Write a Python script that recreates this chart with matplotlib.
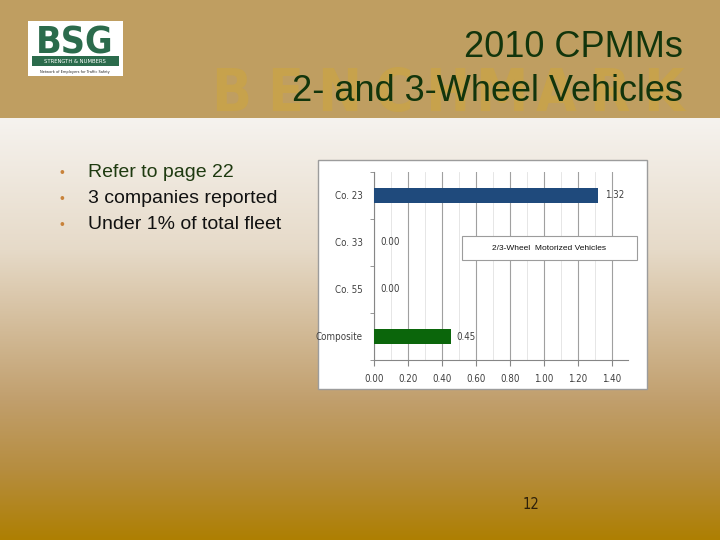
import numpy as np
import matplotlib
matplotlib.use("Agg")
import matplotlib.pyplot as plt
from matplotlib.patches import Rectangle
from matplotlib.colors import to_rgb

# ---- data ----
categories = ["Co. 23", "Co. 33", "Co. 55", "Composite"]
values = [1.32, 0.00, 0.00, 0.45]
bar_colors = ["#1F4A7C", "#1F4A7C", "#1F4A7C", "#0B660B"]
x_ticks = [0.00, 0.20, 0.40, 0.60, 0.80, 1.00, 1.20, 1.40]
series_name = "2/3-Wheel  Motorized Vehicles"
title1 = "2010 CPMMs"
title2 = "2- and 3-Wheel Vehicles"
bullets = ["Refer to page 22", "3 companies reported", "Under 1% of total fleet"]
watermark = "BENCHMARK"
page_no = "12"

W, H = 720, 540
fig = plt.figure(figsize=(7.2, 5.4), dpi=100)

COND = dict(family=["DejaVu Sans"], fontstretch="condensed")
ARIAL = ["Liberation Sans", "DejaVu Sans"]

# ---- background (pixel coordinates) ----
bg = fig.add_axes([0, 0, 1, 1])
bg.set_xlim(0, W)
bg.set_ylim(H, 0)
bg.axis("off")

stops = [(118, "#F6F3EF"), (250, "#E6DAC8"), (400, "#C19F6D"), (470, "#B68D3F"), (540, "#AE7F02")]
ys = np.arange(118, 541)
sy = [s[0] for s in stops]
cols = np.array([to_rgb(s[1]) for s in stops])
grad = np.stack([np.interp(ys, sy, cols[:, k]) for k in range(3)], axis=1)
bg.imshow(grad[:, None, :], extent=(0, W, 540, 118), aspect="auto", zorder=0)

# header band
bg.add_patch(Rectangle((0, 0), W, 118, color="#BF9E61", zorder=1, lw=0))

# watermark letters
wx = np.linspace(231, 664, len(watermark))
for ch, x in zip(watermark, wx):
    bg.text(x, 111, ch, fontsize=42, fontweight="bold", color="#C7A24C",
            ha="center", va="baseline", zorder=2, **COND)

# titles
bg.text(683, 57, title1, fontsize=26, color="#12350C", ha="right", va="baseline",
        family=ARIAL, zorder=3)
bg.text(683, 101, title2, fontsize=26, color="#12350C", ha="right", va="baseline",
        family=ARIAL, zorder=3)

# logo
bg.add_patch(Rectangle((28, 21), 95, 55, color="white", zorder=3, lw=0))
bg.text(75, 54, "BSG", fontsize=27, fontweight="bold", color="#2B6B4C", ha="center",
        va="baseline", zorder=4, **COND)
bg.add_patch(Rectangle((32, 56), 87, 10, color="#2B6B4C", zorder=4, lw=0))
bg.text(75, 61.5, "STRENGTH & NUMBERS", fontsize=4.2, color="white", ha="center",
        va="center", zorder=5, **COND)
bg.text(75, 71.5, "Network of Employers for Traffic Safety", fontsize=2.8, color="#222222",
        ha="center", va="center", zorder=5, **COND)

# bullets
for i, b in enumerate(bullets):
    yb = 177 + 26 * i
    bg.text(62, yb, "\u2022", fontsize=10, color="#C8823A", ha="center", va="baseline",
            family=ARIAL, zorder=3)
    bg.text(88, yb, b, fontsize=14, color="#1E3A10" if i == 0 else "#111111",
            ha="left", va="baseline", family=ARIAL, zorder=3)

# page number
bg.text(531, 509, page_no, fontsize=10.5, color="#2E200A", ha="center", va="baseline",
        zorder=3, **COND)

# chart box
bg.add_patch(Rectangle((318, 160), 329, 229, facecolor="white", edgecolor="#9C9C9C",
                       lw=1.0, zorder=3))

# ---- chart axes ----
left, right, top, bottom = 374, 628, 172, 360
ax = fig.add_axes([left / W, 1 - bottom / H, (right - left) / W, (bottom - top) / H])
ax.set_facecolor("none")
ax.set_zorder(5)

pos = np.arange(len(categories))
ax.barh(pos, values, height=0.32, color=bar_colors, zorder=3)
ax.set_xlim(0, 1.494)
ax.set_ylim(len(categories) - 0.5, -0.5)

lab_font = dict(fontsize=7, color="#404040", **COND)
for p, v in zip(pos, values):
    ax.annotate(f"{v:.2f}", (v, p), xytext=(4.5, 0), textcoords="offset points",
                va="center", ha="left", **lab_font)

ax.set_xticks(x_ticks)
ax.set_xticklabels([f"{t:.2f}" for t in x_ticks], **lab_font)
ax.set_xticks(np.arange(0.1, 1.5, 0.2), minor=True)
ax.set_yticks(pos)
ax.set_yticklabels(categories, **lab_font)
ax.set_yticks(np.arange(-0.5, len(categories), 1.0), minor=True)

ax.grid(axis="x", which="major", color="#A0A0A0", lw=0.8, zorder=1)
ax.grid(axis="x", which="minor", color="#E2E2E2", lw=0.6, zorder=0)
ax.tick_params(axis="x", which="major", direction="out", length=4, color="#868686", pad=6)
ax.tick_params(axis="x", which="minor", length=0)
ax.tick_params(axis="y", which="major", length=0, pad=8)
ax.tick_params(axis="y", which="minor", length=3, color="#868686")
for s in ["top", "right"]:
    ax.spines[s].set_visible(False)
for s in ["left", "bottom"]:
    ax.spines[s].set_color("#868686")
    ax.spines[s].set_linewidth(0.8)

# series label box (drawn above the gridlines)
ax.add_patch(Rectangle((462, 236), 175, 24, facecolor="white", edgecolor="#9C9C9C",
                       lw=0.8, zorder=10, transform=bg.transData, clip_on=False))
ax.text(549.5, 248, series_name, fontsize=6, color="#111111", ha="center", va="center",
        family=ARIAL, zorder=11, transform=bg.transData, clip_on=False)

fig.savefig("out.png", dpi=100)
